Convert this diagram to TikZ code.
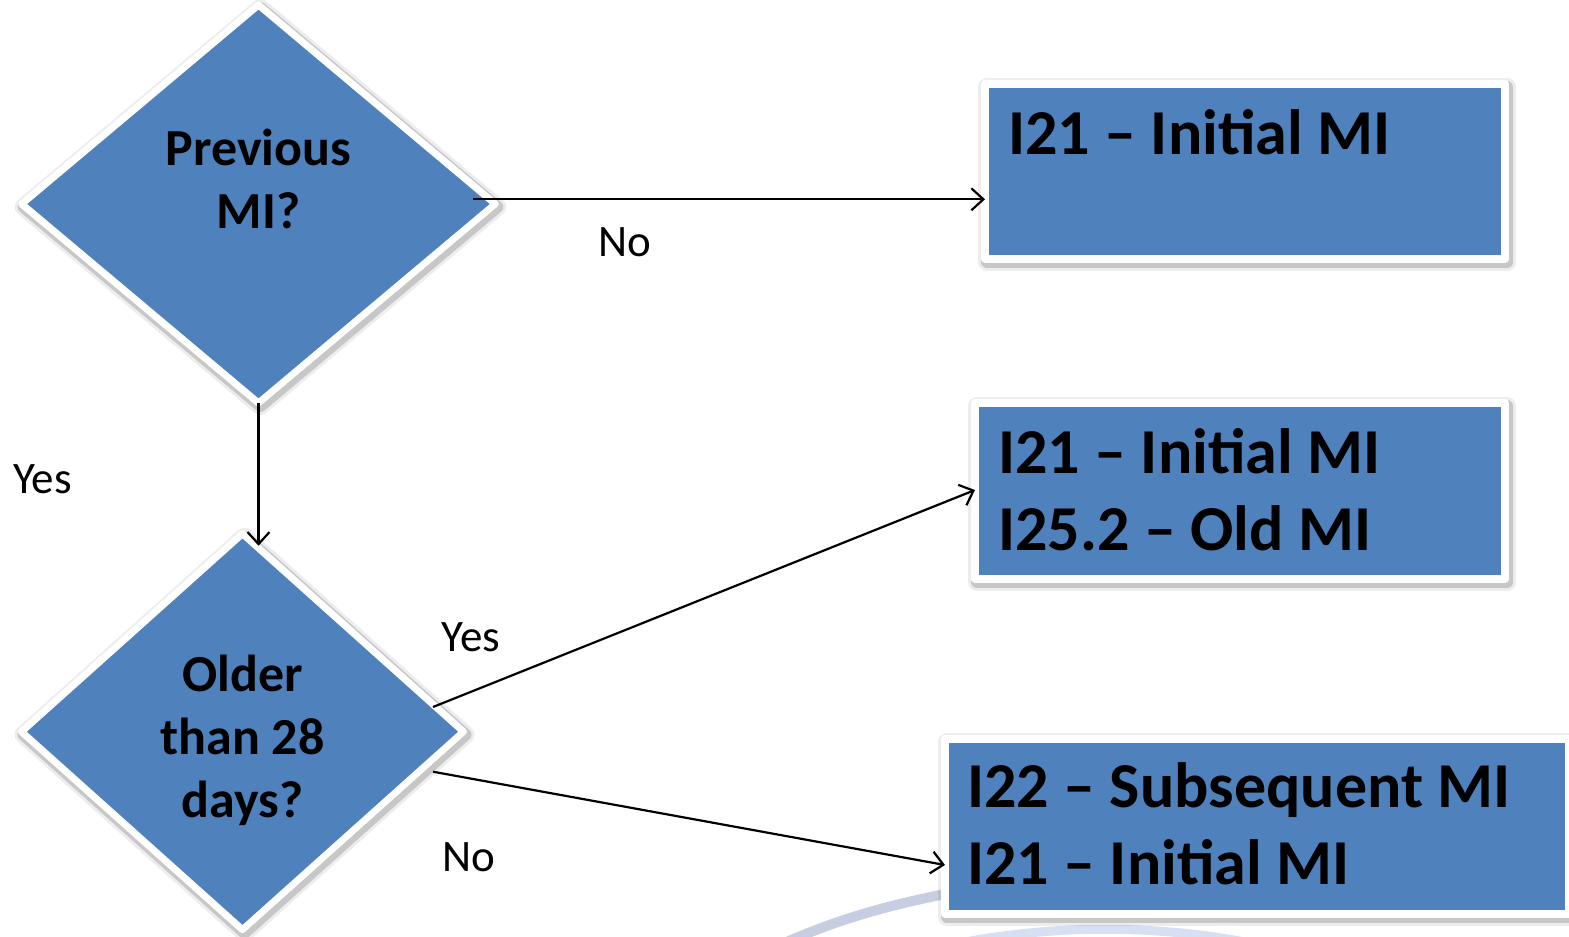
\documentclass[tikz,border=0pt]{standalone}
\usepackage{fontspec}
\setmainfont{Carlito}
\usetikzlibrary{shapes.geometric,arrows.meta,calc,shadows}
\definecolor{mblue}{RGB}{79,129,189}
\definecolor{arcgray}{RGB}{200,206,226}
\definecolor{arcblue}{RGB}{214,224,242}
\begin{document}
\begin{tikzpicture}[x=1pt,y=1pt,
  shadowed/.style={
    drop shadow={shadow xshift=2pt,shadow yshift=-3pt,opacity=0.07,fill=black,draw=black,line width=18pt,line join=round},
    drop shadow={shadow xshift=2pt,shadow yshift=-3pt,opacity=0.16,fill=black,draw=black,line width=12pt,line join=round}},
  dia/.style={diamond, fill=mblue, draw=white, line width=7pt, line join=round, inner sep=0pt, outer sep=0pt, shadowed},
  box/.style={rectangle, fill=mblue, draw=white, line width=8pt, line join=round, inner sep=0pt, outer sep=0pt, shadowed},
  qtext/.style={font=\bfseries\fontsize{52}{63}\selectfont, align=center, inner sep=0pt, anchor=base},
  btext/.style={font=\bfseries\fontsize{64}{77}\selectfont, align=left, inner sep=0pt, anchor=base west},
  lbl/.style={font=\fontsize{45}{54}\selectfont, inner sep=0pt, anchor=base},
  arr/.style={line width=2.2pt, -{Straight Barb[length=12pt,width=22pt]}}
]
\useasboundingbox (0,0) rectangle (1569,-937);
% faint background arcs
\draw[arcgray, line width=10pt] (780,-945) .. controls (840,-918) and (890,-905) .. (950,-893);
\draw[arcblue, line width=9pt] (950,-945) .. controls (1050,-924) and (1160,-924) .. (1260,-945);
% shapes
\node[dia, minimum width=473.6pt, minimum height=398pt] (d1) at (258.5,-204) {};
\node[dia, minimum width=442pt, minimum height=396pt] (d2) at (242.5,-731.7) {};
\node[box, minimum width=520pt, minimum height=175pt] (b1) at (1245,-171.5) {};
\node[box, minimum width=530pt, minimum height=176pt] (b2) at (1240,-491) {};
\node[box, minimum width=624pt, minimum height=175pt] (b3) at (1257,-826.5) {};
% texts (base anchor = last line's baseline)
\node[qtext] (t1) at (258.5,-228) {Previous\\MI?};
\node[qtext] (t2) at (242.5,-817) {Older\\than 28\\days?};
\node[btext] (bt1) at ($(b1.north west)+(23,-70)$) {I21 – Initial MI};
\node[btext] (bt2) at ($(b2.north west)+(23,-147)$) {I21 – Initial MI\\I25.2 – Old MI};
\node[btext] (bt3) at ($(b3.north west)+(22,-145)$) {I22 – Subsequent MI\\I21 – Initial MI};
% connectors
\coordinate (s1) at ($(d1.east)+(-22,4.7)$);
\draw[arr] (s1) -- (s1 -| b1.west);
\draw[arr] (d1.south) -- ($(d1.south |- d2.north)+(0,-12)$);
\draw[arr] ($(d2.east)+(-30.5,24.7)$) -- ($(b2.west)+(0,1)$);
\draw[arr] ($(d2.east)+(-30.5,-40)$) -- ($(b3.west)+(0,-38.5)$);
% labels
\node[lbl] (l1) at (624.5,-256) {No};
\node[lbl] (l2) at (42.5,-493) {Yes};
\node[lbl] (l3) at (471,-651.7) {Yes};
\node[lbl] (l4) at (469,-871.7) {No};
\end{tikzpicture}
\end{document}
